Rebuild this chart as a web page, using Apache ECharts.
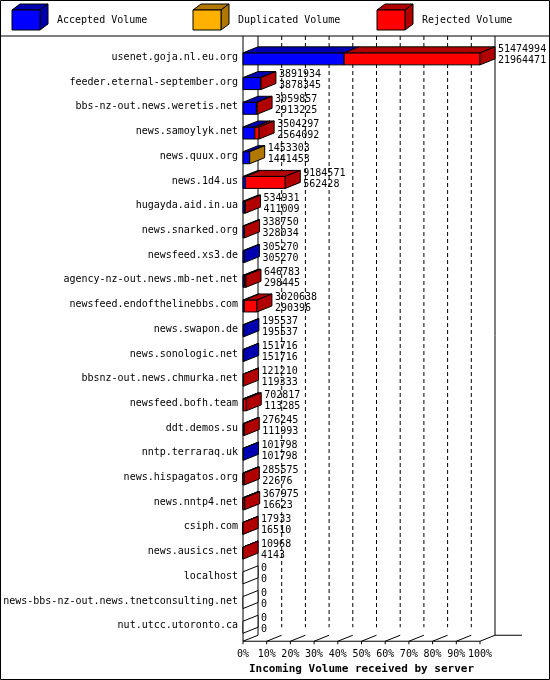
<!DOCTYPE html><html><head><meta charset="utf-8">
<script src="https://cdn.jsdelivr.net/npm/echarts@6/dist/echarts.min.js"></script>
<style>body{margin:0}#c{width:550px;height:680px}</style></head><body><div id="c"></div><script>
var categories=["usenet.goja.nl.eu.org","feeder.eternal-september.org","bbs-nz-out.news.weretis.net","news.samoylyk.net","news.quux.org","news.1d4.us","hugayda.aid.in.ua","news.snarked.org","newsfeed.xs3.de","agency-nz-out.news.mb-net.net","newsfeed.endofthelinebbs.com","news.swapon.de","news.sonologic.net","bbsnz-out.news.chmurka.net","newsfeed.bofh.team","ddt.demos.su","nntp.terraraq.uk","news.hispagatos.org","news.nntp4.net","csiph.com","news.ausics.net","localhost","news-bbs-nz-out.news.tnetconsulting.net","nut.utcc.utoronto.ca"];
var totalVolume=[51474994,3891934,3059857,3504297,1453303,9184571,534931,338750,305270,646783,3020638,195537,151716,121210,702817,276245,101798,285575,367975,17933,10968,0,0,0];
var acceptedVolume=[21964471,3878345,2913225,2564092,1441453,562428,411009,328034,305270,298445,290396,195537,151716,119333,113285,111993,101798,22676,16623,16510,4143,0,0,0];
var duplicatedVolume=[0,0,0,0,11850,0,0,0,0,0,0,0,0,0,0,0,0,0,0,0,0,0,0,0];
var tickLabels=["0%","10%","20%","30%","40%","50%","60%","70%","80%","90%","100%"];
var maxV=Math.max.apply(null,totalVolume);
var FONT='"DejaVu Sans Mono", monospace';
var DX=15,DY=-6;
var data=categories.map(function(c,i){var a=acceptedVolume[i],d=duplicatedVolume[i],r=totalVolume[i]-a-d;
 return [i,a/maxV*100,d/maxV*100,r/maxV*100,totalVolume[i],a];});
var cols=[['#0000ff','#0000b0'],['#ffb000','#b07800'],['#ff0000','#b00000']];
function renderBar(params,api){
 var i=api.value(0);var segs=[api.value(1),api.value(2),api.value(3)];
 var c=api.coord([0,i]);var yTop=c[1]-4.5,yBot=c[1]+7.5;
 var ch=[];var acc=0;var last=-1;
 for(var k=0;k<3;k++){if(segs[k]<=0)continue;
  var x0=api.coord([acc,i])[0];acc+=segs[k];var x1=api.coord([acc,i])[0];last=k;
  ch.push({type:'rect',shape:{x:x0,y:yTop,width:x1-x0,height:yBot-yTop},style:{fill:cols[k][0],stroke:'#000',lineWidth:1}});
  ch.push({type:'polygon',shape:{points:[[x0,yTop],[x0+DX,yTop+DY],[x1+DX,yTop+DY],[x1,yTop]]},style:{fill:cols[k][1],stroke:'#000',lineWidth:1}});
 }
 var xe=api.coord([acc,i])[0];
 ch.push({type:'polygon',shape:{points:[[xe,yTop],[xe+DX,yTop+DY],[xe+DX,yBot+DY],[xe,yBot]]},style:{fill:last<0?'#fff':cols[last][1],stroke:'#000',lineWidth:1}});
 ch.push({type:'text',style:{x:xe+DX+3,y:c[1]-2,text:api.value(4)+'\n'+api.value(5),font:'10px '+FONT,fill:'#000',lineHeight:11,verticalAlign:'middle'}});
 return {type:'group',children:ch};
}
var ticks=tickLabels.map(function(t,i){return [i*10];});
function renderGrid(params,api){
 var v=api.value(0);var p0=api.coord([v,0]);var pb=api.coord([v,categories.length-1]);
 var x=p0[0];var yb=pb[1]+7.5;var ch=[];
 if(v>0&&v<100) ch.push({type:'line',shape:{x1:x+DX,y1:36,x2:x+DX,y2:yb+DY},style:{stroke:'#000',lineDash:[4,3],lineWidth:1}});
 ch.push({type:'line',shape:{x1:x,y1:yb+8,x2:x+DX,y2:yb+8+DY},style:{stroke:'#000',lineWidth:1}});
 ch.push({type:'line',shape:{x1:x,y1:yb+8,x2:x,y2:yb+11},style:{stroke:'#000',lineWidth:1}});
 if(v===100){
  ch.push({type:'line',shape:{x1:x+DX,y1:36,x2:x+DX,y2:yb+8+DY},style:{stroke:'#000',lineWidth:1}});
  ch.push({type:'line',shape:{x1:x+DX,y1:yb+8+DY,x2:x+DX+27,y2:yb+8+DY},style:{stroke:'#000',lineWidth:1}});
 }
 if(v===0){ch.push({type:'line',shape:{x1:x,y1:36,x2:x,y2:yb+8},style:{stroke:'#000',lineWidth:1}});
  ch.push({type:'line',shape:{x1:x,y1:yb+8,x2:api.coord([100,0])[0],y2:yb+8},style:{stroke:'#000',lineWidth:1}});
  ch.push({type:'line',shape:{x1:x+DX,y1:36,x2:x+DX,y2:yb+8+DY},style:{stroke:'#000',lineWidth:1}});}
 return {type:'group',children:ch};
}
function legendItem(x,label,k){return [
 {type:'polygon',shape:{points:[[x,10],[x+8,4],[x+36,4],[x+28,10]]},style:{fill:cols[k][1],stroke:'#000'}},
 {type:'polygon',shape:{points:[[x+28,10],[x+36,4],[x+36,24],[x+28,30]]},style:{fill:cols[k][1],stroke:'#000'}},
 {type:'rect',shape:{x:x,y:10,width:28,height:20},style:{fill:cols[k][0],stroke:'#000'}},
 {type:'text',style:{x:x+45,y:20,text:label,font:'10px '+FONT,fill:'#000',verticalAlign:'middle'}}];}
var chart=echarts.init(document.getElementById('c'));
chart.setOption({animation:false,backgroundColor:'#fff',
 grid:{left:243,right:70,top:45,bottom:35},
 xAxis:{type:'value',min:0,max:100,interval:10,axisLine:{show:false},axisTick:{show:false},splitLine:{show:false},
  axisLabel:{formatter:function(v){return tickLabels[v/10];},fontFamily:FONT,fontSize:10,color:'#000',margin:11},
  name:'Incoming Volume received by server',nameLocation:'middle',nameGap:24,nameTextStyle:{fontFamily:FONT,fontSize:11,fontWeight:'bold',color:'#000'}},
 yAxis:{type:'category',data:categories,inverse:true,axisLine:{show:false},axisTick:{show:false},
  axisLabel:{fontFamily:FONT,fontSize:10,color:'#000',margin:5}},
 graphic:[{type:'rect',shape:{x:0.5,y:0.5,width:549,height:679},style:{fill:null,stroke:'#000'},z:-1},
  {type:'line',shape:{x1:0,y1:36,x2:550,y2:36},style:{stroke:'#000'}}]
  .concat(legendItem(12,'Accepted Volume',0),legendItem(193,'Duplicated Volume',1),legendItem(377,'Rejected Volume',2)),
 series:[{type:'custom',renderItem:renderGrid,data:ticks,encode:{x:0},silent:true,z:1},
  {type:'custom',renderItem:renderBar,data:data,encode:{x:[1],y:0},z:2}]
});
</script></body></html>
